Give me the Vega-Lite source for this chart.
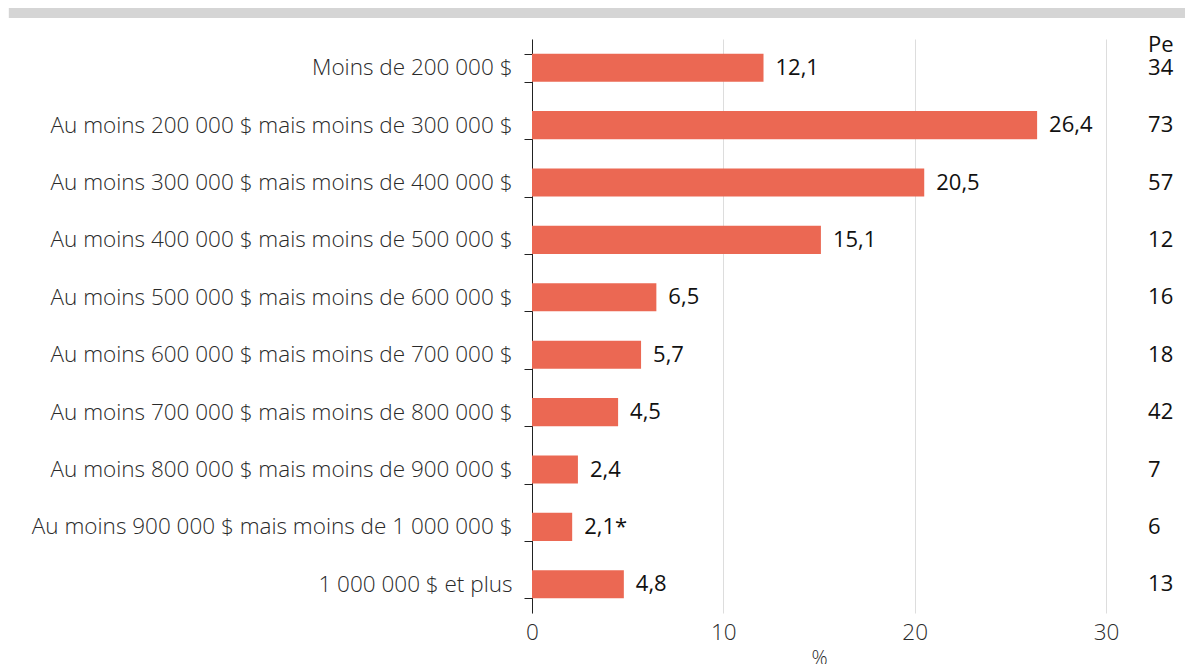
{
  "$schema": "https://vega.github.io/schema/vega-lite/v6.json",
  "background": "white",
  "padding": {"left": 8, "top": 8, "right": 0, "bottom": 0},
  "config": {"view": {"stroke": null}, "font": "Open Sans"},
  "columns": 1,
  "align": "none",
  "spacing": 10,
  "datasets": {
    "rows": [
      {"cat": "Moins de 200 000 $", "pct": 12.1, "lab": "12,1", "n": "34"},
      {"cat": "Au moins 200 000 $ mais moins de 300 000 $", "pct": 26.4, "lab": "26,4", "n": "73"},
      {"cat": "Au moins 300 000 $ mais moins de 400 000 $", "pct": 20.5, "lab": "20,5", "n": "57"},
      {"cat": "Au moins 400 000 $ mais moins de 500 000 $", "pct": 15.1, "lab": "15,1", "n": "12"},
      {"cat": "Au moins 500 000 $ mais moins de 600 000 $", "pct": 6.5, "lab": "6,5", "n": "16"},
      {"cat": "Au moins 600 000 $ mais moins de 700 000 $", "pct": 5.7, "lab": "5,7", "n": "18"},
      {"cat": "Au moins 700 000 $ mais moins de 800 000 $", "pct": 4.5, "lab": "4,5", "n": "42"},
      {"cat": "Au moins 800 000 $ mais moins de 900 000 $", "pct": 2.4, "lab": "2,4", "n": "7"},
      {"cat": "Au moins 900 000 $ mais moins de 1 000 000 $", "pct": 2.1, "lab": "2,1*", "n": "6"},
      {"cat": "1 000 000 $ et plus", "pct": 4.8, "lab": "4,8", "n": "13"}
    ],
    "header": [{"cat": "Moins de 200 000 $", "h": "Pe"}],
    "band": [{"a": -0.8, "b": 1}]
  },
  "concat": [
    {
      "width": 654,
      "height": 10,
      "data": {"name": "band"},
      "mark": {"type": "rect", "color": "#d5d5d5", "clip": false},
      "encoding": {
        "x": {"field": "a", "type": "quantitative", "scale": {"domain": [0, 1], "nice": false, "zero": false}, "axis": null},
        "x2": {"field": "b"}
      }
    },
    {
      "width": 574,
      "height": 574,
      "layer": [
        {
          "data": {"name": "rows"},
          "mark": {"type": "bar", "color": "#eb6853"},
          "encoding": {
            "y": {
              "field": "cat", "type": "nominal", "sort": null,
              "scale": {"paddingInner": 0.51, "paddingOuter": 0.255},
              "axis": {
                "title": null, "tickBand": "extent", "tickSize": 8, "tickColor": "#222",
                "domainColor": "#222", "labelFontSize": 22.5, "labelFontWeight": 300, "labelColor": "#2a2a2a",
                "labelPadding": 12, "labelLimit": 700, "grid": false
              }
            },
            "x": {
              "field": "pct", "type": "quantitative",
              "scale": {"domain": [0, 30], "nice": false},
              "axis": {
                "title": "%", "titleFontSize": 20, "titleFontWeight": 300, "titleColor": "#2a2a2a",
                "titlePadding": 5,
                "values": [0, 10, 20, 30], "labelFontSize": 22.5, "labelFontWeight": 300, "labelColor": "#2a2a2a",
                "labelPadding": 8, "labelFlush": false, "ticks": false, "domain": false,
                "grid": true, "gridColor": "#dddddd"
              }
            }
          }
        },
        {
          "data": {"name": "rows"},
          "mark": {"type": "text", "align": "left", "dx": 12, "fontSize": 22, "color": "#111"},
          "encoding": {
            "y": {"field": "cat", "type": "nominal", "sort": null},
            "x": {"field": "pct", "type": "quantitative"},
            "text": {"field": "lab"}
          }
        },
        {
          "data": {"name": "rows"},
          "mark": {"type": "text", "align": "left", "fontSize": 22, "color": "#111"},
          "encoding": {
            "y": {"field": "cat", "type": "nominal", "sort": null},
            "x": {"datum": 32.2},
            "text": {"field": "n"}
          }
        },
        {
          "data": {"name": "header"},
          "mark": {"type": "text", "align": "left", "fontSize": 22, "color": "#111", "dy": -23},
          "encoding": {
            "y": {"field": "cat", "type": "nominal", "sort": null},
            "x": {"datum": 32.2},
            "text": {"field": "h"}
          }
        }
      ]
    }
  ]
}
